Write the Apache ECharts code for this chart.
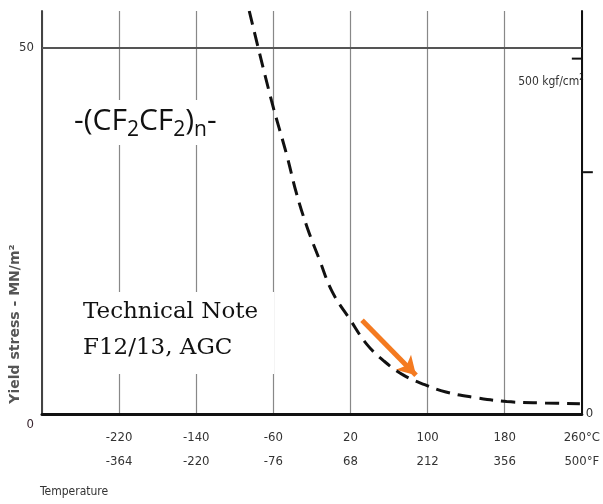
<!DOCTYPE html>
<html>
<head>
<meta charset="utf-8">
<script src="https://cdn.jsdelivr.net/npm/echarts@6/dist/echarts.min.js"></script>
<style>
  html, body { margin: 0; padding: 0; background: #fff; }
  #chart { width: 603px; height: 504px; }
</style>
</head>
<body>
<div id="chart"></div>
<script>
// temperatures in °C and yield stress in MN/m2
var tempC = [-85, -62, -46, -36, -25, -12, 1, 20, 37, 55, 75, 97, 119, 147, 182, 222, 258]
var stress = [55, 42.8, 35.3, 30.1, 25.5, 21.0, 16.7, 12.8, 9.5, 7.2, 5.3, 4.0, 3.0, 2.3, 1.7, 1.5, 1.4]
var tickC = [-220, -140, -60, 20, 100, 180, 260]
var tickF = ['-364', '-220', '-76', '68', '212', '356', '500']
var gridStress = 50
var arrowFrom = [32, 12.8]
var arrowTo = [88, 5.3]
var kgfTicks = [48.5, 33]

var narrow = "'Liberation Sans Narrow', 'DejaVu Sans Condensed', sans-serif"

var chart = echarts.init(document.getElementById('chart'))

var option = {
  animation: false,
  backgroundColor: '#fff',
  grid: { left: 42, right: 16, top: 11, bottom: 90 },
  xAxis: {
    type: 'value',
    min: -300,
    max: 260,
    interval: 80,
    axisLine: { show: true, onZero: false, lineStyle: { color: '#111', width: 3 } },
    axisTick: { show: false },
    splitLine: { show: true, lineStyle: { color: '#888', width: 1.2 } },
    axisLabel: {
      margin: 12,
      fontFamily: narrow,
      fontSize: 13,
      color: '#333',
      lineHeight: 24,
      formatter: function (v) {
        var i = tickC.indexOf(v)
        if (i < 0) return ''
        if (v === 260) return '260°C\n500°F'
        return v + '\n' + tickF[i]
      }
    }
  },
  yAxis: [{
    type: 'value',
    min: 0,
    max: 55,
    interval: 50,
    axisLine: { show: true, onZero: false, lineStyle: { color: '#444', width: 2 } },
    axisTick: { show: false },
    splitLine: { show: false },
    axisLabel: {
      margin: 8,
      fontFamily: narrow,
      fontSize: 13,
      color: '#333',
      formatter: function (v) {
        if (v === 0) return '{z|0}'
        return v === 50 ? '50' : ''
      },
      rich: { z: { padding: [22, 0, 0, 0], color: '#3a2630', fontFamily: narrow, fontSize: 13 } }
    }
  }, {
    type: 'value',
    position: 'right',
    min: 0,
    max: 55,
    interval: 55,
    axisLine: { show: true, onZero: false, lineStyle: { color: '#111', width: 2 } },
    axisTick: { show: false },
    splitLine: { show: false },
    axisLabel: {
      margin: 4,
      fontFamily: narrow,
      fontSize: 13,
      color: '#333',
      formatter: function (v) { return v === 0 ? '0' : '' }
    }
  }],
  series: [{
    type: 'line',
    smooth: 0.4,
    symbol: 'none',
    data: tempC.map(function (t, i) { return [t, stress[i]] }),
    lineStyle: { color: '#111', width: 3, type: [14, 8] },
    z: 5,
    markLine: {
      silent: true,
      symbol: ['none', 'arrow'],
      symbolSize: [16, 18],
      label: { show: false },
      lineStyle: { color: '#f47a20', width: 5, type: 'solid' },
      data: [[{ coord: arrowFrom }, { coord: arrowTo }]]
    }
  }, {
    type: 'line',
    data: [],
    z: 1,
    markLine: {
      silent: true,
      symbol: 'none',
      label: { show: false },
      lineStyle: { color: '#555', width: 2, type: 'solid' },
      data: [{ yAxis: gridStress }]
    }
  }],
  graphic: [{
    type: 'text',
    left: 68,
    top: 100,
    z: 100,
    style: {
      text: '-(CF{s|2}CF{s|2}){s|n}-',
      fontFamily: "'Open Sans', 'Noto Sans', sans-serif",
      fontSize: 30,
      fill: '#111',
      backgroundColor: '#fff',
      padding: [2, 6, 4, 6],
      rich: {
        s: { fontSize: 21, padding: [18, 0, 0, 0], fontFamily: "'Open Sans', 'Noto Sans', sans-serif" }
      }
    }
  }, {
    type: 'text',
    left: 77,
    top: 292,
    z: 100,
    style: {
      text: 'Technical Note\nF12/13, AGC',
      fontFamily: "'DejaVu Serif', serif",
      fontSize: 23,
      lineHeight: 36,
      fill: '#111',
      backgroundColor: '#fff',
      padding: [2, 16, 8, 6]
    }
  }, {
    type: 'text',
    x: 15,
    y: 324,
    rotation: Math.PI / 2,
    z: 100,
    style: {
      text: 'Yield stress - MN/m²',
      fontFamily: "'DejaVu Sans', sans-serif",
      fontWeight: 'bold',
      fontSize: 14,
      fill: '#555',
      align: 'center',
      verticalAlign: 'middle'
    }
  }, {
    type: 'text',
    left: 40,
    top: 486,
    style: {
      text: 'Temperature',
      fontFamily: narrow,
      fontSize: 12,
      fill: '#333'
    }
  }]
}

chart.setOption(option)

// right-hand kgf/cm2 ticks and label
var p1 = chart.convertToPixel({ yAxisIndex: 1 }, kgfTicks[0])
var p2 = chart.convertToPixel({ yAxisIndex: 1 }, kgfTicks[1])
var xr = chart.convertToPixel({ xAxisIndex: 0 }, 260)
chart.setOption({
  graphic: option.graphic.concat([{
    type: 'line',
    shape: { x1: xr - 10, y1: p1, x2: xr + 1, y2: p1 },
    style: { stroke: '#111', lineWidth: 2 }
  }, {
    type: 'line',
    shape: { x1: xr, y1: p2, x2: xr + 11, y2: p2 },
    style: { stroke: '#111', lineWidth: 2 }
  }, {
    type: 'text',
    x: xr + 2,
    y: p1 + 23,
    style: {
      text: '500 kgf/cm{sup|2}',
      fontFamily: narrow,
      fontSize: 12,
      fill: '#333',
      align: 'right',
      verticalAlign: 'middle',
      rich: { sup: { fontSize: 8, padding: [0, 0, 8, 0], fontFamily: narrow } }
    }
  }])
})
</script>
</body>
</html>
